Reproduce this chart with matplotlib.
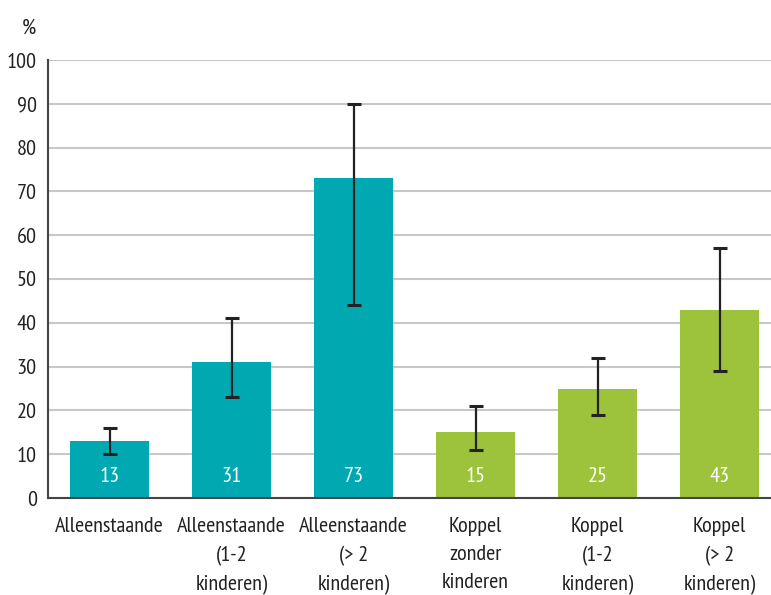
import matplotlib
matplotlib.use("Agg")
import matplotlib.pyplot as plt
import numpy as np

categories = ["Alleenstaande", "Alleenstaande\n(1-2\nkinderen)", "Alleenstaande\n(> 2\nkinderen)",
              "Koppel\nzonder\nkinderen", "Koppel\n(1-2\nkinderen)", "Koppel\n(> 2\nkinderen)"]
values = [13, 31, 73, 15, 25, 43]
lower = [10, 23, 44, 11, 19, 29]
upper = [16, 41, 90, 21, 32, 57]
colors = ["#00A9B2", "#00A9B2", "#00A9B2", "#9DC23B", "#9DC23B", "#9DC23B"]
yticks = list(range(0, 101, 10))

plt.rcParams['font.family'] = ['PT Sans Narrow', 'Fira Sans Condensed', 'DejaVu Sans']
FS = 16

fig = plt.figure(figsize=(7.71, 5.95), dpi=100)
ax = fig.add_axes([48/771, (595-498)/595, 1 - 48/771, 438/595])

x = np.arange(len(values))
ax.bar(x, values, width=0.65, color=colors, zorder=2)
err = [np.array(values) - np.array(lower), np.array(upper) - np.array(values)]
ax.errorbar(x, values, yerr=err, fmt='none', ecolor='#222222', elinewidth=1.6,
            capsize=5, capthick=2.2, zorder=3)
for xi, v in zip(x, values):
    ax.text(xi, 4.8, str(v), ha='center', va='center', color='white', fontsize=FS)

ax.set_ylim(0, 100)
ax.set_xlim(-0.504, 5.42)
ax.set_yticks(yticks)
ax.set_yticklabels([str(t) for t in yticks], fontsize=FS, color='#222222')
ax.yaxis.grid(True, color='#C8C8C8', linewidth=1.5, zorder=0)
ax.set_axisbelow(True)
ax.tick_params(axis='y', length=0, pad=8)
ax.tick_params(axis='x', length=0, pad=14)
ax.set_xticks(x)
ax.set_xticklabels(categories, fontsize=FS, color='#222222', linespacing=1.6, va='top')
for s in ['top', 'right']:
    ax.spines[s].set_visible(False)
ax.spines['left'].set_color('#444444')
ax.spines['left'].set_linewidth(1.5)
ax.spines['bottom'].set_color('#444444')
ax.spines['bottom'].set_linewidth(1.5)
fig.text(29/771, 1 - 28/595, "%", ha='center', va='center', fontsize=FS, color='#222222')

fig.savefig("out.png", dpi=100)
